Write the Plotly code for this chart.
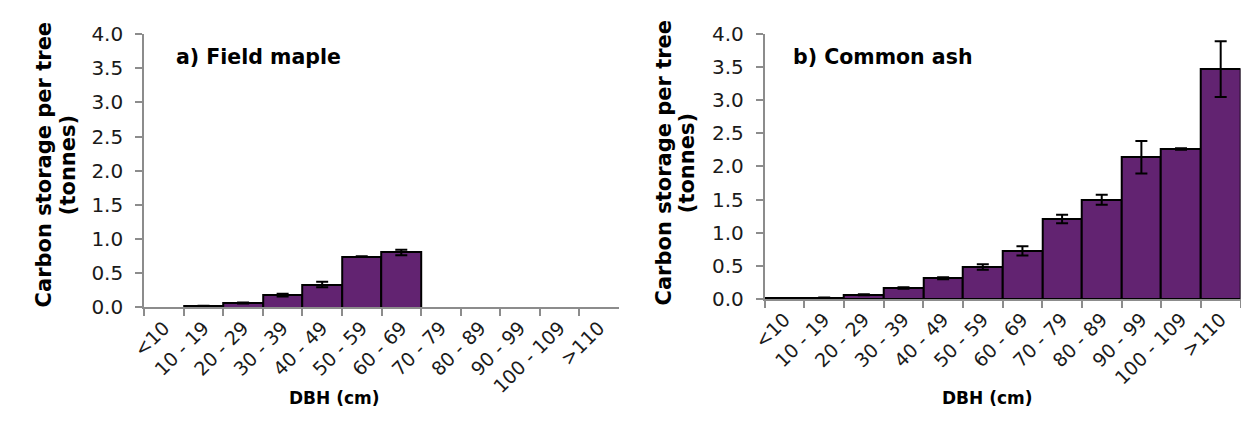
import plotly.graph_objects as go

# DBH classes shared by both panels
dbh_classes = ["<10", "10 - 19", "20 - 29", "30 - 39", "40 - 49", "50 - 59",
               "60 - 69", "70 - 79", "80 - 89", "90 - 99", "100 - 109", ">110"]

# a) Field maple: mean carbon per tree (tonnes) and standard error
maple_carbon = [None, 0.02, 0.065, 0.18, 0.335, 0.745, 0.805, None, None, None, None, None]
maple_se = [None, 0.005, 0.008, 0.02, 0.04, 0.004, 0.04, None, None, None, None, None]

# b) Common ash: mean carbon per tree (tonnes) and standard error
ash_carbon = [0.01, 0.02, 0.064, 0.167, 0.314, 0.483, 0.725, 1.207, 1.497, 2.14, 2.265, 3.47]
ash_se = [0.0, 0.003, 0.007, 0.012, 0.015, 0.04, 0.07, 0.065, 0.075, 0.245, 0.012, 0.42]

W, H = 1241, 422
BAR_FILL = "#622371"
AXIS_GREY = "#8c8c8c"
YTICK_FONT = dict(family="DejaVu Sans", size=20, color="#1a1a1a")
XTICK_FONT = dict(family="DejaVu Sans", size=19, color="#1a1a1a")
YTITLE_FONT = dict(family="DejaVu Sans", size=21, color="#000000")
XTITLE_FONT = dict(family="DejaVu Sans", size=17, color="#000000")
PANEL_FONT = dict(family="DejaVu Sans", size=20.5, color="#000000")


def px_x(p):
    return p / W


def px_y(p):
    return 1 - p / H


fig = go.Figure()

for idx, (vals, errs) in enumerate([(maple_carbon, maple_se), (ash_carbon, ash_se)]):
    suffix = "" if idx == 0 else "2"
    fig.add_trace(go.Bar(
        x=dbh_classes, y=vals,
        xaxis="x" + suffix, yaxis="y" + suffix,
        marker=dict(color=BAR_FILL, line=dict(color="#000000", width=2)),
        error_y=dict(type="data", array=errs, visible=True,
                     color="#000000", thickness=2, width=6),
        showlegend=False,
    ))

x_common = dict(
    type="category", range=[-0.5, 11.5], tickson="boundaries",
    ticks="outside", ticklen=7, tickwidth=1.5, tickcolor=AXIS_GREY,
    showline=True, linecolor=AXIS_GREY, linewidth=2,
    showgrid=False, zeroline=False, tickangle=-45,
    tickfont=XTICK_FONT, fixedrange=True,
)
y_common = dict(
    range=[0, 4], dtick=0.5, tickformat=".1f",
    ticks="outside", ticklen=7, tickwidth=1.5, tickcolor=AXIS_GREY,
    showline=True, linecolor=AXIS_GREY, linewidth=2,
    showgrid=False, zeroline=False, tickfont=YTICK_FONT,
    ticklabelstandoff=8, fixedrange=True,
)

fig.update_layout(
    width=W, height=H,
    margin=dict(l=0, r=0, t=0, b=0),
    paper_bgcolor="white", plot_bgcolor="white",
    bargap=0,
    xaxis=dict(x_common, domain=[px_x(131.7), px_x(611.7)], anchor="y"),
    yaxis=dict(y_common, domain=[px_y(313.3), px_y(23.3)], anchor="x"),
    xaxis2=dict(x_common, domain=[px_x(759.3), px_x(1240.5)], anchor="y2"),
    yaxis2=dict(y_common, domain=[px_y(304.3), px_y(23.3)], anchor="x2"),
)

annotations = [
    # panel titles
    dict(text="<b>a) Field maple</b>", x=px_x(162), y=px_y(48), xanchor="left", yanchor="middle",
         font=PANEL_FONT),
    dict(text="<b>b) Common ash</b>", x=px_x(786), y=px_y(48), xanchor="left", yanchor="middle",
         font=PANEL_FONT),
    # y-axis titles, one annotation per line
    dict(text="<b>Carbon storage per tree</b>", x=px_x(30), y=px_y(162),
         textangle=-90, xanchor="center", yanchor="middle", font=YTITLE_FONT),
    dict(text="<b>(tonnes)</b>", x=px_x(54), y=px_y(162),
         textangle=-90, xanchor="center", yanchor="middle", font=YTITLE_FONT),
    dict(text="<b>Carbon storage per tree</b>", x=px_x(657), y=px_y(160),
         textangle=-90, xanchor="center", yanchor="middle", font=YTITLE_FONT),
    dict(text="<b>(tonnes)</b>", x=px_x(681), y=px_y(160),
         textangle=-90, xanchor="center", yanchor="middle", font=YTITLE_FONT),
    # x-axis titles
    dict(text="<b>DBH (cm)</b>", x=px_x(324), y=px_y(409), xanchor="center", yanchor="middle",
         font=XTITLE_FONT),
    dict(text="<b>DBH (cm)</b>", x=px_x(985), y=px_y(409), xanchor="center", yanchor="middle",
         font=XTITLE_FONT),
]
for a in annotations:
    a.update(xref="paper", yref="paper", showarrow=False)
fig.update_layout(annotations=annotations)

fig.write_html("out.html")
